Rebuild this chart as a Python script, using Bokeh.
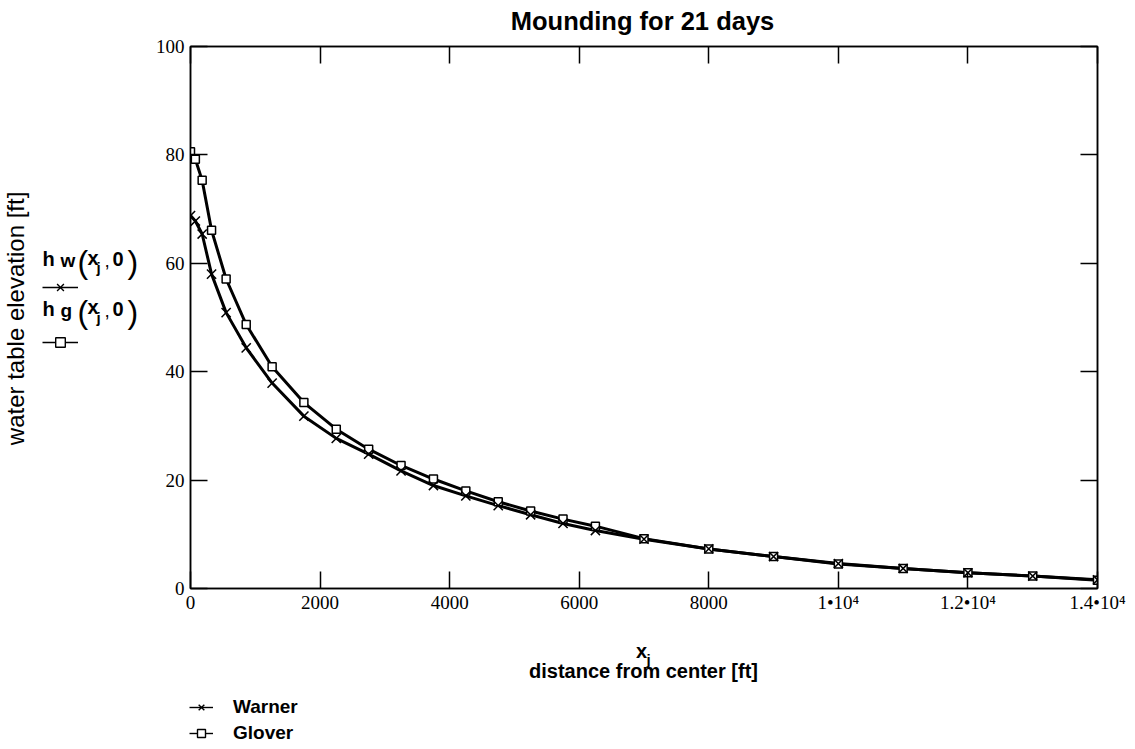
import math
from bokeh.plotting import figure
from bokeh.layouts import column, row
from bokeh.models import (Range1d, LinearAxis, Label, Legend, LegendItem, FixedTicker,
                          CustomJSTickFormatter, ColumnDataSource)
from bokeh.core.properties import value
from bokeh.embed import file_html
from bokeh.resources import INLINE

# ---------------- data ----------------
x_ft = [0, 75, 180, 325, 550, 860, 1260, 1750, 2250, 2750, 3250, 3750, 4250,
        4750, 5250, 5750, 6250, 7000, 8000, 9000, 10000, 11000, 12000, 13000, 14000]
warner = [68.8, 67.8, 65.4, 58.0, 50.9, 44.4, 37.9, 31.8, 27.7, 24.8, 21.7, 19.0, 17.1,
          15.3, 13.6, 12.0, 10.7, 9.1, 7.3, 5.9, 4.6, 3.7, 2.9, 2.3, 1.6]
glover = [80.6, 79.2, 75.3, 66.1, 57.1, 48.7, 40.9, 34.3, 29.4, 25.7, 22.7, 20.2, 18.0,
          16.0, 14.3, 12.8, 11.5, 9.2, 7.3, 5.9, 4.5, 3.7, 2.9, 2.3, 1.5]

x_ticks = [0, 2000, 4000, 6000, 8000, 10000, 12000, 14000]
x_tick_labels = ["0", "2000", "4000", "6000", "8000",
                 "1\u202210\u2074", "1.2\u202210\u2074", "1.4\u202210\u2074"]
y_ticks = [0, 20, 40, 60, 80, 100]

title_text = "Mounding for 21 days"
x_label = "distance from center [ft]"
y_label = "water table elevation [ft]"
series_names = ["Warner", "Glover"]
trace_subs = ["w", "g"]

NAN = float("nan")


# ---------------- helper panels (page-pixel coordinates) ----------------
def panel(w, h, x0, y0):
    f = figure(width=w, height=h, x_range=Range1d(x0, x0 + w), y_range=Range1d(y0 + h, y0),
               output_backend="svg", toolbar_location=None, min_border=0,
               x_axis_location=None, y_axis_location=None)
    f.outline_line_color = None
    f.grid.visible = False
    f.background_fill_color = "white"
    f.border_fill_color = "white"
    return f


def txt(f, s, px, py, size, bold=True, align="left", baseline="alphabetic", angle=0.0):
    f.add_layout(Label(x=px, y=py, text=s, text_font="Liberation Sans",
                       text_font_size=f"{size}px",
                       text_font_style="bold" if bold else "normal",
                       text_align=align, text_baseline=baseline, angle=angle,
                       text_color="black"))


def proxies(f):
    # legend-only renderers: a single undefined (NaN) point, nothing drawn in the panel
    empty = ColumnDataSource(dict(x=[NAN], y=[NAN]))
    lw = f.line("x", "y", source=empty, line_color="black", line_width=1.4)
    mw = f.scatter("x", "y", source=empty, marker="x", line_color="black", line_width=1.4)
    lg = f.line("x", "y", source=empty, line_color="black", line_width=1.4)
    mg = f.scatter("x", "y", source=empty, marker="square", line_color="black",
                   line_width=1.4, fill_color="white")
    return [lw, mw], [lg, mg]


W = 1133
TOP_H, MAIN_H, BOT_H = 35, 588, 124

# top strip: title
top = panel(W, TOP_H, 0, 0)
txt(top, title_text, 642, 20, 25.5, align="center")

# left strip: y label + trace labels
left = panel(145, MAIN_H, 0, TOP_H)
txt(left, y_label, 15, 330, 24, bold=False, align="center", baseline="middle", angle=math.pi / 2)
for dy, sub in [(0, trace_subs[0]), (54, trace_subs[1])]:
    txt(left, "h", 42, 266 + dy, 20)
    txt(left, sub, 60, 267 + dy, 19)
    txt(left, "(", 77, 269 + dy, 32, bold=False)
    txt(left, "x", 87, 264 + dy, 20)
    txt(left, "j", 96, 275 + dy, 15)
    txt(left, ",", 104, 267 + dy, 19, bold=False)
    txt(left, "0", 112, 266 + dy, 20)
    txt(left, ")", 127, 269 + dy, 32, bold=False)
rw, rg = proxies(left)
left.add_layout(Legend(items=[LegendItem(label=value(""), renderers=rw),
                              LegendItem(label=value(""), renderers=rg)],
                       location=(42, 234), orientation="vertical",
                       glyph_width=36, glyph_height=24, label_height=24, spacing=31,
                       label_standoff=0, padding=0, margin=0,
                       border_line_color=None, background_fill_alpha=0))

# bottom strip: x label + legend
bottom = panel(W, BOT_H, 0, TOP_H + MAIN_H)
txt(bottom, "x", 641, 650, 20, align="center")
txt(bottom, "j", 646, 659, 15)
txt(bottom, x_label, 643, 670, 20, align="center")
bw, bg = proxies(bottom)
bottom.add_layout(Legend(items=[LegendItem(label=value(series_names[0]), renderers=bw),
                                LegendItem(label=value(series_names[1]), renderers=bg)],
                         location=(189, 3), orientation="vertical",
                         glyph_width=24, glyph_height=20, label_height=20, spacing=4,
                         label_standoff=20, padding=0, margin=0,
                         label_text_font="Liberation Sans", label_text_font_style="bold",
                         label_text_font_size="19px", label_text_color="black",
                         border_line_color=None, background_fill_alpha=0))

# ---------------- main plot ----------------
p = figure(width=988, height=MAIN_H, x_range=Range1d(0, 14000), y_range=Range1d(0, 100),
           output_backend="svg", toolbar_location=None,
           x_axis_location=None, y_axis_location=None,
           min_border_left=45, min_border_right=36, min_border_top=11, min_border_bottom=35)
p.background_fill_color = "white"
p.border_fill_color = "white"
p.grid.visible = False
p.outline_line_color = "black"
p.outline_line_width = 1.5

bot_ax, top_ax = LinearAxis(), LinearAxis()
left_ax, right_ax = LinearAxis(), LinearAxis()
p.add_layout(bot_ax, "below")
p.add_layout(top_ax, "above")
p.add_layout(left_ax, "left")
p.add_layout(right_ax, "right")

blank = CustomJSTickFormatter(code="return ''")
for ax in [bot_ax, top_ax]:
    ax.ticker = FixedTicker(ticks=x_ticks)
for ax in [left_ax, right_ax]:
    ax.ticker = FixedTicker(ticks=y_ticks)
for ax in [bot_ax, top_ax, left_ax, right_ax]:
    ax.major_tick_in = 17
    ax.major_tick_out = 0
    ax.minor_tick_in = 0
    ax.minor_tick_out = 0
    ax.axis_line_width = 1.5
    ax.major_tick_line_width = 1.5
    ax.major_label_text_font = "Liberation Serif"
    ax.major_label_text_font_size = "19px"
    ax.major_label_text_color = "black"
bot_ax.major_label_standoff = 3
left_ax.major_label_standoff = 6
for ax in [top_ax, right_ax]:
    ax.formatter = blank
    ax.major_label_text_font_size = "1px"
    ax.major_label_standoff = 0
bot_ax.major_label_overrides = {t: s for t, s in zip(x_ticks, x_tick_labels)}

src = ColumnDataSource(dict(x=x_ft, w=warner, g=glover))
p.line("x", "g", source=src, line_color="black", line_width=3)
p.line("x", "w", source=src, line_color="black", line_width=3)
p.scatter("x", "g", source=src, marker="square", size=8, line_color="black",
          line_width=1.5, fill_color="white")
p.scatter("x", "w", source=src, marker="x", size=13, line_color="black", line_width=1.5)

layout = column(top, row(left, p, spacing=0), bottom, spacing=0)
open("out.html", "w").write(file_html(layout, INLINE))
